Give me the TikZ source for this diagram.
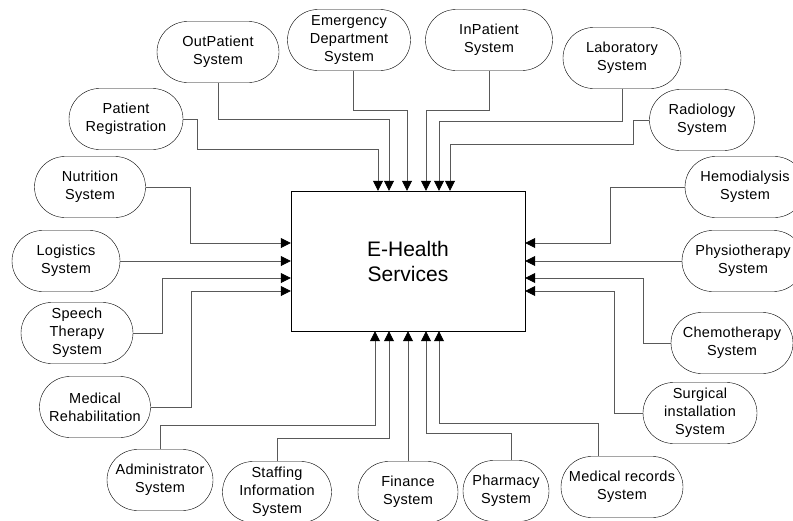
\documentclass[tikz,border=0pt]{standalone}
\usepackage{fontspec}
\setmainfont{Liberation Sans}
\usetikzlibrary{arrows.meta,shapes.misc}

\tikzset{
  sys/.style={draw, rounded rectangle, minimum height=61pt, inner xsep=0pt, align=center,
    font=\fontsize{14.5}{18}\selectfont\addfontfeatures{LetterSpace=2}},
  hub/.style={draw, minimum width=234pt, minimum height=140pt, align=center,
    font=\fontsize{21}{25}\selectfont},
  feed/.style={draw=black!65, line width=0.8pt, -{Triangle[length=10pt,width=10pt,black]}}
}

\begin{document}
\begin{tikzpicture}[x=1pt, y=-1pt]
      \useasboundingbox (0,0) rectangle (793,520);
      \node[hub] (hub) at (408,261) {E-Health\\Services};
      % top row
      \node[sys, minimum width=114pt] (preg) at (126,119) {Patient\\Registration};
      \node[sys, minimum width=122pt] (op) at (218,52) {OutPatient\\System};
      \node[sys, minimum width=123pt] (ed) at (349,40) {Emergency\\Department\\System};
      \node[sys, minimum width=127pt] (ip) at (489,40) {InPatient\\System};
      \node[sys, minimum width=118pt] (lab) at (622,58) {Laboratory\\System};
      \node[sys, minimum width=105pt] (rad) at (702,120) {Radiology\\System};
      % left side
      \node[sys, minimum width=111pt] (nut) at (90,187) {Nutrition\\System};
      \node[sys, minimum width=108pt] (log) at (66,261) {Logistics\\System};
      \node[sys, minimum width=112pt] (sp) at (77,333) {Speech\\Therapy\\System};
      \node[sys, minimum width=111pt] (reh) at (95,407) {Medical\\Rehabilitation};
      % right side
      \node[sys, minimum width=120pt] (hd) at (745,187) {Hemodialysis\\System};
      \node[sys, minimum width=122pt] (pt) at (743,261) {Physiotherapy\\System};
      \node[sys, minimum width=122pt] (chemo) at (732,343) {Chemotherapy\\System};
      \node[sys, minimum width=114pt] (surg) at (700,413) {Surgical\\installation\\System};
      % bottom row
      \node[sys, minimum width=106pt] (adm) at (160,480) {Administrator\\System};
      \node[sys, minimum width=109pt] (st) at (277,492) {Staffing\\Information\\System};
      \node[sys, minimum width=100pt] (fin) at (408,492) {Finance\\System};
      \node[sys, minimum width=86pt] (ph) at (506,491) {Pharmacy\\System};
      \node[sys, minimum width=122pt] (mr) at (622,487) {Medical records\\System};
      % into the top
      \draw[feed] (preg.east) -| (197,149) -| (hub.north -| 378,0);
      \draw[feed] (op.south) -- (218,119) -| (hub.north -| 389,0);
      \draw[feed] (ed.south -| 353,0) -- (353,110) -| (hub.north -| 407,0);
      \draw[feed] (ip.south) -- (489,110) -| (hub.north -| 426,0);
      \draw[feed] (lab.south) -- (622,121) -| (hub.north -| 439,0);
      \draw[feed] (rad.west) -| (633,144) -| (hub.north -| 450,0);
      % into the left
      \draw[feed] (nut.east) -| (190,243) -- (hub.west |- 0,243);
      \draw[feed] (log.east) -- (hub.west |- log.east);
      \draw[feed] (sp.east) -| (162,278) -- (hub.west |- 0,278);
      \draw[feed] (reh.east) -| (191,291) -- (hub.west |- 0,291);
      % into the right
      \draw[feed] (hd.west) -| (610,243) -- (hub.east |- 0,243);
      \draw[feed] (pt.west) -- (hub.east |- pt.west);
      \draw[feed] (chemo.west) -| (643,278) -- (hub.east |- 0,278);
      \draw[feed] (surg.west) -| (614,291) -- (hub.east |- 0,291);
      % into the bottom
      \draw[feed] (adm.north) -- (160,425) -| (hub.south -| 375,0);
      \draw[feed] (st.north) -- (277,438) -| (hub.south -| 389,0);
      \draw[feed] (fin.north) -- (hub.south -| fin.north);
      \draw[feed] (ph.north -| 511,0) -- (511,433) -| (hub.south -| 426,0);
      \draw[feed] (mr.north -| 598,0) -- (598,423) -| (hub.south -| 439,0);
\end{tikzpicture}
\end{document}
